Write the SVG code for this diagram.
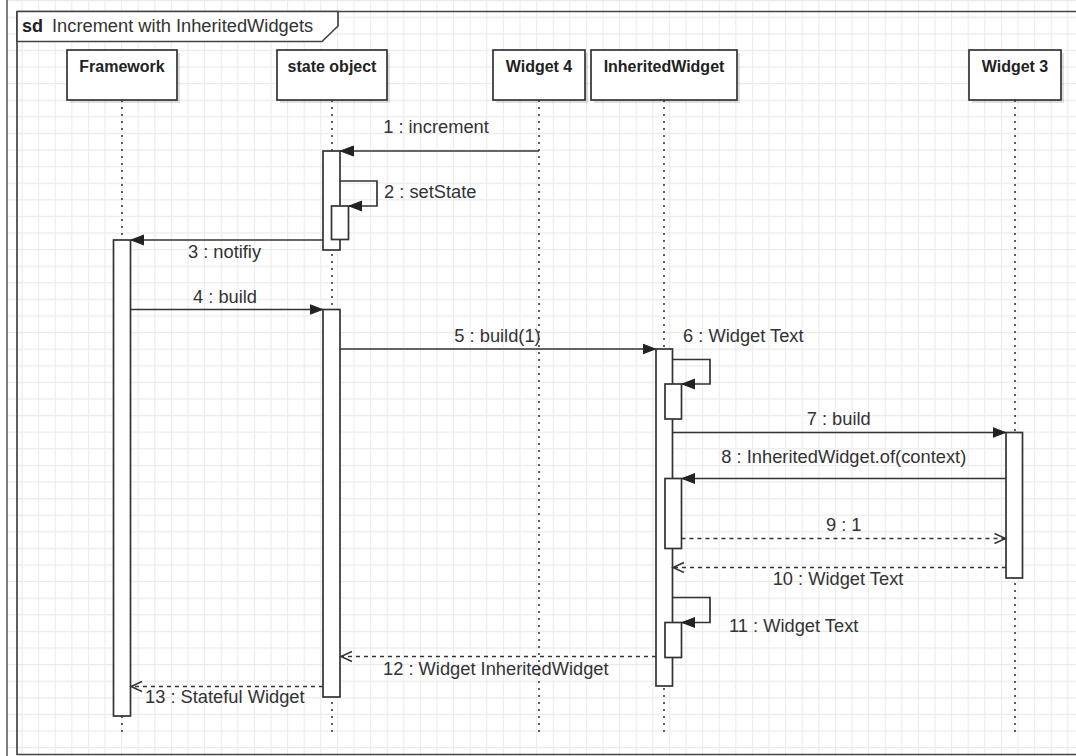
<svg xmlns="http://www.w3.org/2000/svg" width="1076" height="756" viewBox="0 0 1076 756">
<defs>
<pattern id="grid" x="4.9" y="0" width="16.6" height="16.6" patternUnits="userSpaceOnUse">
<path d="M0.5,0 V16.6 M0,0.5 H16.6" fill="none" stroke="#ebebeb" stroke-width="1.2"/>
</pattern>
<marker id="block" markerUnits="userSpaceOnUse" markerWidth="14" markerHeight="12" refX="13" refY="6" orient="auto">
<path d="M0,1 L13,6 L0,11 Z" fill="#222" stroke="#222" stroke-width="1"/>
</marker>
<marker id="open" markerUnits="userSpaceOnUse" markerWidth="14" markerHeight="14" refX="12" refY="7" orient="auto">
<path d="M1,2 L12,7 L1,12" fill="none" stroke="#333" stroke-width="1.5"/>
</marker>
</defs>
<style>
.box{fill:#fff;stroke:#333;stroke-width:1.7}
.shadow{fill:#000;opacity:0.12}
.act{fill:#fff;stroke:#333;stroke-width:1.7}
.life{stroke:#444;stroke-width:1.7;stroke-dasharray:2 5;fill:none}
.msg{stroke:#333;stroke-width:1.7;fill:none}
.ret{stroke:#333;stroke-width:1.5;fill:none;stroke-dasharray:4 4}
.hd{font-family:"Liberation Sans",Arial,sans-serif;font-weight:bold;font-size:16px;fill:#222;text-anchor:middle}
.lbl{font-family:"Liberation Sans",Arial,sans-serif;font-size:18.3px;fill:#333}
.mid{text-anchor:middle}
</style>
<rect width="1076" height="756" fill="#fff"/>
<rect x="7" y="0" width="1069" height="756" fill="url(#grid)"/>
<line x1="7" y1="0" x2="7" y2="756" stroke="#555" stroke-width="1.5"/>

<g id="frame">
<path d="M17,11.5 H1076 M17,11.5 V754.5 H1076" fill="none" stroke="#444" stroke-width="1.7"/>
<path d="M17,11.5 H338 V26 L322,41.5 H17 Z" fill="#fff" stroke="#444" stroke-width="1.7"/>
<text x="22" y="32" font-family="Liberation Sans,Arial,sans-serif" font-size="18px" font-weight="bold" fill="#222">sd</text>
<text x="52" y="32" class="lbl">Increment with InheritedWidgets</text>
</g>

<g id="lifelines">
<line class="life" x1="122" y1="100" x2="122" y2="736"/>
<line class="life" x1="332" y1="100" x2="332" y2="736"/>
<line class="life" x1="539" y1="100" x2="539" y2="736"/>
<line class="life" x1="664" y1="100" x2="664" y2="736"/>
<line class="life" x1="1015" y1="100" x2="1015" y2="736"/>
</g>

<g id="framework">
<rect class="shadow" x="70" y="53" width="110" height="50"/>
<rect class="box" x="67" y="50" width="110" height="50"/>
<text class="hd" x="122" y="72">Framework</text>
<rect class="act" x="113.5" y="240" width="17" height="476"/>
</g>

<g id="state-object">
<rect class="shadow" x="280" y="53" width="110" height="50"/>
<rect class="box" x="277" y="50" width="110" height="50"/>
<text class="hd" x="332" y="72">state object</text>
<rect class="act" x="323" y="151" width="17" height="99"/>
<rect class="act" x="331.5" y="206" width="17" height="33.5"/>
<rect class="act" x="323" y="309.5" width="17" height="387.5"/>
</g>

<g id="widget4">
<rect class="shadow" x="496" y="53" width="92" height="50"/>
<rect class="box" x="493" y="50" width="92" height="50"/>
<text class="hd" x="539" y="72">Widget 4</text>
</g>

<g id="inherited-widget">
<rect class="shadow" x="594" y="53" width="146" height="50"/>
<rect class="box" x="591" y="50" width="146" height="50"/>
<text class="hd" x="664" y="72">InheritedWidget</text>
<rect class="act" x="656" y="349" width="16.5" height="337"/>
<rect class="act" x="665" y="384" width="16.5" height="35"/>
<rect class="act" x="665" y="478.5" width="16.5" height="70"/>
<rect class="act" x="665" y="622.5" width="16.5" height="35"/>
</g>

<g id="widget3">
<rect class="shadow" x="972" y="53" width="92" height="50"/>
<rect class="box" x="969" y="50" width="92" height="50"/>
<text class="hd" x="1015" y="72">Widget 3</text>
<rect class="act" x="1006" y="432.5" width="16.5" height="145.5"/>
</g>

<g id="connectors">
<line class="msg" x1="539" y1="151" x2="340.5" y2="151" marker-end="url(#block)"/>
<path class="msg" d="M340,181 H377 V206 H349" marker-end="url(#block)"/>
<line class="msg" x1="323" y1="240" x2="131" y2="240" marker-end="url(#block)"/>
<line class="msg" x1="130.5" y1="309.5" x2="322.5" y2="309.5" marker-end="url(#block)"/>
<line class="msg" x1="340" y1="349" x2="655.5" y2="349" marker-end="url(#block)"/>
<path class="msg" d="M672.5,359.5 H710 V384 H682" marker-end="url(#block)"/>
<line class="msg" x1="672.5" y1="432.5" x2="1005.5" y2="432.5" marker-end="url(#block)"/>
<line class="msg" x1="1006" y1="478.5" x2="682" y2="478.5" marker-end="url(#block)"/>
<line class="ret" x1="681.5" y1="538.5" x2="1005.5" y2="538.5" marker-end="url(#open)"/>
<line class="ret" x1="1006" y1="567.5" x2="673" y2="567.5" marker-end="url(#open)"/>
<path class="msg" d="M672.5,597.5 H710 V622.5 H682" marker-end="url(#block)"/>
<line class="ret" x1="656" y1="656.5" x2="341" y2="656.5" marker-end="url(#open)"/>
<line class="ret" x1="323" y1="686.5" x2="131" y2="686.5" marker-end="url(#open)"/>
</g>

<g id="labels">
<text class="lbl mid" x="436" y="133">1 : increment</text>
<text class="lbl" x="384" y="198">2 : setState</text>
<text class="lbl mid" x="224.5" y="258">3 : notifiy</text>
<text class="lbl mid" x="225" y="303">4 : build</text>
<text class="lbl mid" x="497.5" y="342">5 : build(1)</text>
<text class="lbl" x="683" y="342">6 : Widget Text</text>
<text class="lbl mid" x="838.7" y="425">7 : build</text>
<text class="lbl mid" x="843.8" y="463">8 : InheritedWidget.of(context)</text>
<text class="lbl mid" x="843.7" y="531">9 : 1</text>
<text class="lbl mid" x="838" y="585">10 : Widget Text</text>
<text class="lbl" x="729" y="632">11 : Widget Text</text>
<text class="lbl" x="383" y="675">12 : Widget InheritedWidget</text>
<text class="lbl" x="145" y="703">13 : Stateful Widget</text>
</g>
</svg>
